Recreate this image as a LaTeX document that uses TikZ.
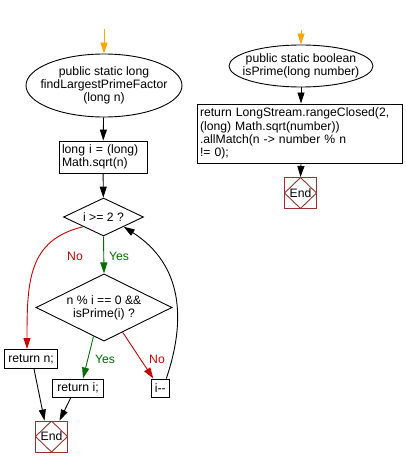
\documentclass[tikz,border=0pt]{standalone}
\usepackage{fontspec}
\setmainfont{Liberation Sans}
\usetikzlibrary{shapes.geometric,arrows.meta}
\definecolor{endred}{RGB}{153,51,51}
\definecolor{noRed}{RGB}{204,0,0}
\definecolor{yesGreen}{RGB}{0,110,0}
\definecolor{startOrange}{RGB}{255,165,0}

\begin{document}
\begin{tikzpicture}[x=1pt,y=-1pt,
	font=\fontsize{12.2}{13.3}\selectfont,
	every path/.style={line width=0.9pt},
	arr/.style={-{Triangle[length=11pt,width=7pt]}},
	func/.style={draw,ellipse,inner xsep=-14pt,inner ysep=-5pt,align=center},
	stmt/.style={draw,inner xsep=3pt,inner ysep=2pt,align=left},
	cond/.style={draw,diamond,inner sep=-8pt,align=center},
	endbox/.style={draw=endred,minimum width=32pt,minimum height=31pt,inner sep=0pt,
		path picture={\draw[endred] (path picture bounding box.north) -- (path picture bounding box.east)
			-- (path picture bounding box.south) -- (path picture bounding box.west) -- cycle;}},
	yes/.style={text=yesGreen},
	no/.style={text=noRed}]
	\useasboundingbox (0,0) rectangle (405,468);

	% findLargestPrimeFactor
	\coordinate (inA) at (104,29);
	\node[func,minimum width=156pt,minimum height=63pt] (funA) at (104,85.5)
		{public static long\\findLargestPrimeFactor\\(long n)};
	\node[stmt,text width=82pt,minimum height=32pt] (initI) at (103,157) {long i = (long)\\Math.sqrt(n)};
	\node[cond,minimum width=80pt,minimum height=38pt] (chkI) at (103.5,217) {i >= 2 ?};
	\node[cond,minimum width=136pt,minimum height=63pt] (chkDiv) at (104,307.5) {n \% i == 0 \&\&\\isPrime(i) ?};
	\node[stmt,minimum width=53pt,minimum height=19pt,inner xsep=1pt] (retN) at (31,359) {return n;};
	\node[stmt,minimum width=51pt,minimum height=18pt] (retI) at (78,388) {return i;};
	\node[stmt,minimum width=18pt,minimum height=18pt,inner sep=1pt] (decI) at (160.3,388) {i-{}-};
	\node[endbox] (endA) at (51.5,436.5) {End};

	\draw[arr,startOrange] (inA) -- (funA.north);
	\draw[arr] (funA) -- (initI);
	\draw[arr] (initI) -- (chkI);
	\draw[arr,yesGreen] (chkI.south) -- (chkDiv.north);
	\node[yes] (yesA) at (119,256) {Yes};
	\draw[arr,noRed] (chkI.south west) .. controls +(-55,13) and +(0,-68) .. ([xshift=-4pt]retN.north);
	\node[no] (noA) at (75,256) {No};
	\draw[arr,yesGreen] (chkDiv.250) -- ([xshift=5pt]retI.north);
	\node[yes] (yesB) at (105,359) {Yes};
	\draw[arr,noRed] (chkDiv.307) -- ([xshift=-7pt]decI.north);
	\node[no] (noB) at (157,359) {No};
	\draw[arr] ([xshift=6pt]decI.north) .. controls +(20,-59) and +(59,38) .. (chkI.south east);
	\draw[arr] ([xshift=3pt]retN.south) -- ([xshift=-7pt]endA.north);
	\draw[arr] ([xshift=-7pt]retI.south) -- ([xshift=8pt]endA.north);

	% isPrime
	\coordinate (inB) at (301,30);
	\node[func,minimum width=144pt,minimum height=42pt] (funB) at (301,66) {public static boolean\\isPrime(long number)};
	\node[stmt,text width=199pt,minimum height=59pt] (retB) at (299.5,133.5)
		{return LongStream.rangeClosed(2,\\(long) Math.sqrt(number))\\.allMatch(n -> number \% n\\!= 0);};
	\node[endbox] (endB) at (300.5,193) {End};

	\draw[arr,startOrange] (inB) -- (funB.north);
	\draw[arr] (funB.south) -- (funB.south |- retB.north);
	\draw[arr] (funB.south |- retB.south) -- (endB.north);
\end{tikzpicture}
\end{document}
